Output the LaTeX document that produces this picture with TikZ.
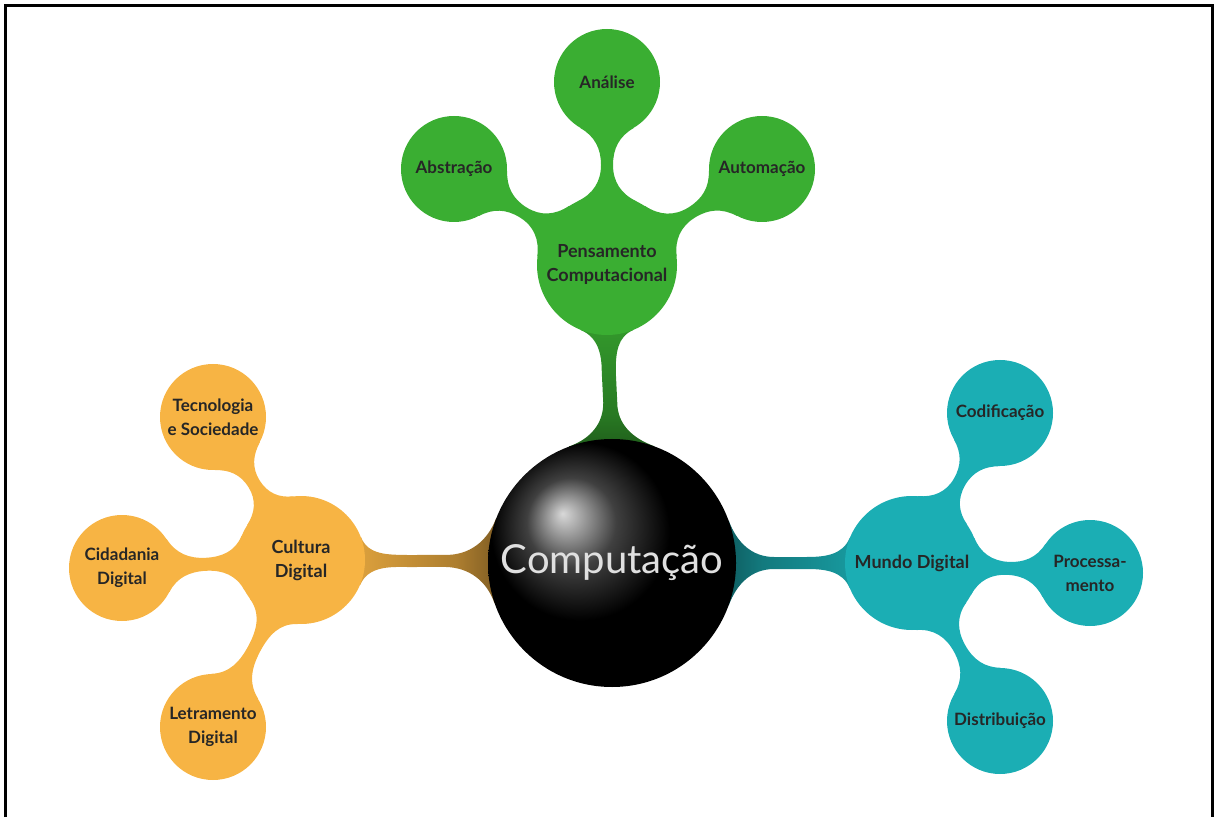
\documentclass[tikz,border=0pt]{standalone}
\usepackage{fontspec}
\setmainfont{Lato}
\usetikzlibrary{calc,shadings,backgrounds}

\definecolor{verde}{RGB}{58,174,50}
\definecolor{laranja}{RGB}{247,180,68}
\definecolor{ciano}{RGB}{27,174,180}

% barra entre dois circulos: #1 estilo, #2 de, #3 para, #4 angulo,
% #5 abertura em #2, #6 abertura em #3, #7 meia largura, #8 fracao
\newcommand{\barra}[8]{%
  \pgfmathtruncatemacro\barTa{#4}%
  \pgfmathtruncatemacro\barTb{#4+180}%
  \pgfmathtruncatemacro\barPa{#4+#5}%
  \pgfmathtruncatemacro\barQa{#4-#5}%
  \pgfmathtruncatemacro\barPb{#4+180-#6}%
  \pgfmathtruncatemacro\barQb{#4+180+#6}%
  \pgfmathtruncatemacro\barOa{\barPa-90}%
  \pgfmathtruncatemacro\barIa{\barQa+90}%
  \pgfmathtruncatemacro\barOb{\barQb-90}%
  \pgfmathtruncatemacro\barIb{\barPb+90}%
  \path[#1] (#2.\barPa)
    to[out=\barOa,in=\barTb] ($(#2.\barTa)!#8!(#3.\barTb)!#7pt!90:(#3.\barTb)$)
    -- ($(#2.\barTa)!1-#8!(#3.\barTb)!#7pt!90:(#3.\barTb)$)
    to[out=\barTa,in=\barIb] (#3.\barPb) -- (#3.center) -- (#3.\barQb)
    to[out=\barOb,in=\barTa] ($(#2.\barTa)!1-#8!(#3.\barTb)!#7pt!-90:(#3.\barTb)$)
    -- ($(#2.\barTa)!#8!(#3.\barTb)!#7pt!-90:(#3.\barTb)$)
    to[out=\barTb,in=\barIa] (#2.\barQa) -- (#2.center) -- cycle;%
}

\begin{document}
\begin{tikzpicture}[x=1pt,y=1pt,
  hub/.style={circle,inner sep=0pt,align=center,text=black!85,
    font=\bfseries\fontsize{18}{24}\selectfont},
  leaf/.style={circle,inner sep=0pt,minimum size=106pt,align=center,text=black!85,
    font=\bfseries\fontsize{17}{24}\selectfont},
  ramo/.style={top color=#1,bottom color=black,middle color=#1!70!black}]
  \useasboundingbox (0,0) rectangle (1214,817);
  \draw[line width=3pt] (5,0) |- (1212.5,811) -- (1212.5,0);

  % centro
  \node[circle,ball color=black,minimum size=248pt,text=black!12,
    font=\fontsize{40}{44}\selectfont](comp) at (612,254){Computação};

  % ramos
  \node[hub,fill=verde,minimum size=140pt](pens) at (607,552){Pensamento\\Computacional};
  \node[hub,fill=laranja,minimum size=128pt](cult) at (301,257){Cultura\\Digital};
  \node[hub,fill=ciano,minimum size=134pt](mund) at (912,254){Mundo Digital};

  % folhas
  \node[leaf,fill=verde](anal) at (607,735){Análise};
  \node[leaf,fill=verde](abst) at (454,648){Abstração};
  \node[leaf,fill=verde](auto) at (762,648){Automação};

  \node[leaf,fill=laranja](tecn) at (213,400){Tecnologia\\e Sociedade};
  \node[leaf,fill=laranja](cida) at (122,249){Cidadania\\Digital};
  \node[leaf,fill=laranja](letr) at (213,90){Letramento\\Digital};

  \node[leaf,fill=ciano](codi) at (1000,404){Codificação};
  \node[leaf,fill=ciano](proc) at (1090,244){Processa-\\mento};
  \node[leaf,fill=ciano](dist) at (1000,96){Distribuição};

  \begin{pgfonlayer}{background}
  \barra{ramo=verde,shading angle=0}{comp}{pens}{90}{20}{22}{7}{0.35}
  \barra{ramo=laranja,shading angle=90}{comp}{cult}{179}{20}{22}{6}{0.35}
  \barra{ramo=ciano,shading angle=-90}{comp}{mund}{0}{20}{22}{6}{0.35}

  \barra{fill=verde}{pens}{anal}{90}{25}{30}{6}{0.5}
  \barra{fill=verde}{pens}{abst}{148}{25}{30}{6}{0.5}
  \barra{fill=verde}{pens}{auto}{32}{25}{30}{6}{0.5}

  \barra{fill=laranja}{cult}{tecn}{122}{25}{30}{6.5}{0.5}
  \barra{fill=laranja}{cult}{cida}{183}{25}{30}{6.5}{0.5}
  \barra{fill=laranja}{cult}{letr}{242}{25}{30}{6.5}{0.5}

  \barra{fill=ciano}{mund}{codi}{60}{25}{30}{6.5}{0.5}
  \barra{fill=ciano}{mund}{proc}{-3}{25}{30}{6.5}{0.5}
  \barra{fill=ciano}{mund}{dist}{-61}{25}{30}{6.5}{0.5}
  \end{pgfonlayer}
\end{tikzpicture}
\end{document}
